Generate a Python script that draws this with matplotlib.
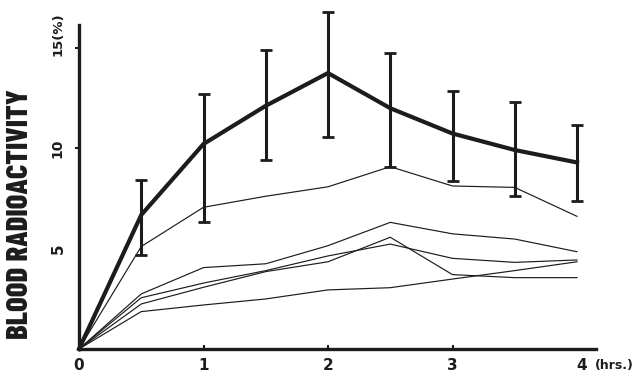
import matplotlib
matplotlib.use("Agg")
import matplotlib.pyplot as plt

# Sampling times (hours after injection)
hours = [0, 0.5, 1, 1.5, 2, 2.5, 3, 3.5, 4]

# Mean blood radioactivity (%) with lower / upper error-bar limits
mean_pct = [0, 6.67, 10.2, 12.1, 13.73, 11.98, 10.72, 9.9, 9.28]
err_low = [0, 4.68, 6.32, 9.4, 10.55, 9.07, 8.36, 7.61, 7.38]
err_high = [0, 8.41, 12.7, 14.88, 16.77, 14.74, 12.85, 12.29, 11.14]

# Individual subjects (%)
subj_a = [0, 5.1, 7.05, 7.6, 8.07, 9.07, 8.11, 8.04, 6.6]
subj_b = [0, 2.74, 4.05, 4.24, 5.14, 6.3, 5.73, 5.47, 4.84]
subj_c = [0, 2.24, 3.07, 3.85, 4.34, 5.56, 3.7, 3.55, 3.55]
subj_d = [0, 2.55, 3.28, 3.9, 4.63, 5.22, 4.51, 4.31, 4.43]
subj_e = [0, 1.86, 2.19, 2.49, 2.94, 3.05, 3.48, 3.9, 4.34]
subjects = [subj_a, subj_b, subj_c, subj_d, subj_e]

x_ticks = [0, 1, 2, 3, 4]
x_labels = ["0", "1", "2", "3", "4"]
y_ticks = [5, 10, 15]
y_labels = ["5", "10", "15(%)"]

ink = "#1c1c1c"
label_font = ["Barlow Condensed", "DejaVu Sans"]

fig = plt.figure(figsize=(6.4, 3.77), dpi=100)
ax = fig.add_axes([79 / 640, 28 / 377, 4.15 * 124.5 / 640, 16.1 * 20.1 / 377])
ax.set_xlim(0, 4.15)
ax.set_ylim(0, 16.1)

for s in ("top", "right"):
    ax.spines[s].set_visible(False)
for s in ("left", "bottom"):
    ax.spines[s].set_linewidth(2.4)
    ax.spines[s].set_color(ink)

# thin individual curves
for vals in subjects:
    ax.plot(hours, vals, color=ink, lw=0.85, solid_joinstyle="miter", clip_on=False)

# thick mean curve with error bars
ax.plot(hours, mean_pct, color=ink, lw=3.0, solid_joinstyle="round", clip_on=False, zorder=4)
eb_x = hours[1:]
eb_y = mean_pct[1:]
lower = [m - lo for m, lo in zip(mean_pct[1:], err_low[1:])]
upper = [hi - m for m, hi in zip(mean_pct[1:], err_high[1:])]
ax.errorbar(eb_x, eb_y, yerr=[lower, upper], fmt="none", ecolor=ink,
            elinewidth=2.2, capsize=4.3, capthick=2.0, clip_on=False, zorder=5)

# ticks
ax.set_xticks(x_ticks[1:4])
ax.set_xticklabels([])
ax.tick_params(axis="x", direction="in", length=3, width=1.5, colors=ink)
ax.set_yticks(y_ticks[1:])
ax.set_yticklabels([])
ax.tick_params(axis="y", direction="out", length=3, width=1.5, colors=ink)

for xv, lab in zip(x_ticks, x_labels):
    ax.text(xv + (0.04 if xv == 4 else 0), -0.8, lab, ha="center", va="center",
            fontsize=11, fontweight="bold", color=ink, family="DejaVu Sans")
ax.text(4.14, -0.8, "(hrs.)", ha="left", va="center", fontsize=9,
        fontweight="bold", color=ink, family="DejaVu Sans")

ax.text(-0.17, 5, y_labels[0], rotation=90, ha="center", va="center",
        fontsize=11, fontweight="bold", color=ink)
ax.text(-0.17, 10, y_labels[1], rotation=90, ha="center", va="center",
        fontsize=10, fontweight="bold", color=ink)
ax.text(-0.17, 14.6, y_labels[2], rotation=90, ha="center", va="bottom",
        fontsize=9.5, fontweight="bold", color=ink)

fig.text(21 / 640, 1 - 214 / 377, "BLOOD RADIOACTIVITY", rotation=90,
         ha="center", va="center", fontsize=22, fontweight=800,
         family=label_font, color=ink)

fig.savefig("out.png", dpi=100, facecolor="white")
